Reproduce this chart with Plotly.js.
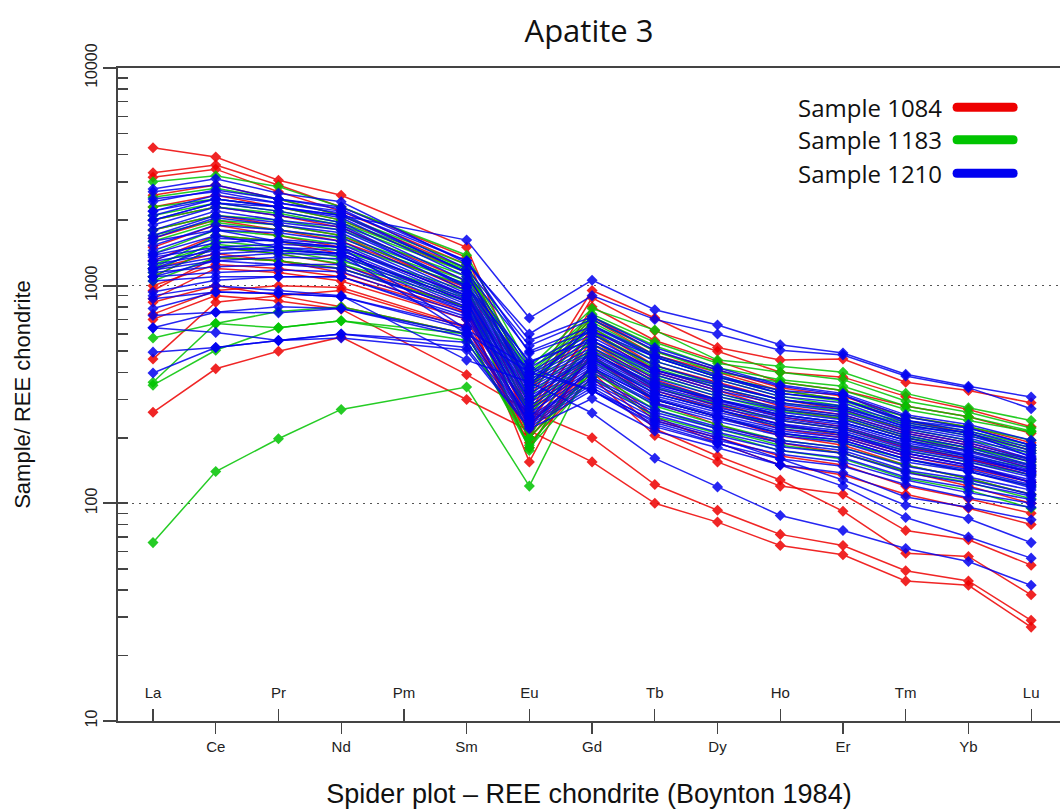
<!DOCTYPE html>
<html>
<head>
<meta charset="utf-8">
<script src="https://cdn.plot.ly/plotly-3.0.1.min.js"></script>
<style>html,body{margin:0;padding:0;background:#fff;}#chart{width:1060px;height:812px;}</style>
</head>
<body>
<div id="chart"></div>
<script>
// REE elements (chondrite-normalised spider plot, Boynton 1984); Pm not measured
const elements = ["La","Ce","Pr","Nd","Pm","Sm","Eu","Gd","Tb","Dy","Ho","Er","Tm","Yb","Lu"];
const measured = ["La","Ce","Pr","Nd","Sm","Eu","Gd","Tb","Dy","Ho","Er","Tm","Yb","Lu"];
const upperLabels = ["La","Pr","Pm","Eu","Tb","Ho","Tm","Lu"];
const lowerLabels = ["Ce","Nd","Sm","Gd","Dy","Er","Yb"];
const yTickVals = [10, 100, 1000, 10000];
const yTickText = ["10", "100", "1000", "10000"];
const sampleNames = ["Sample 1084", "Sample 1183", "Sample 1210"];

// Sample 1084 (red)
const sample1084 = [
  [4300,3900,3050,2600,1500,330,950,710,520,455,460,360,330,290],
  [3300,3580,2900,2300,1350,300,880,620,500,400,380,310,270,225],
  [3150,3430,2700,2200,1250,260,800,560,450,360,330,280,250,210],
  [2600,2900,2500,2100,1200,330,720,500,410,340,310,250,225,190],
  [2300,2600,2300,2000,1150,280,700,480,400,330,300,240,210,175],
  [2000,2300,2100,1850,1050,250,640,430,360,300,270,215,190,160],
  [1800,2100,1900,1700,950,230,600,400,330,270,245,200,175,145],
  [1650,2000,1800,1600,980,260,620,410,340,280,255,210,185,155],
  [1500,1900,1700,1500,900,240,560,370,300,250,225,185,160,135],
  [1300,1700,1600,1400,850,220,520,340,280,230,205,170,150,125],
  [1200,1400,1300,1200,800,155,540,360,290,240,220,180,160,140],
  [1100,1500,1400,1250,800,210,480,300,250,205,185,150,130,110],
  [1000,1250,1200,1100,750,180,500,330,270,220,200,165,145,125],
  [950,1350,1300,1150,760,230,470,290,230,190,170,140,120,100],
  [870,1200,1150,1050,700,200,420,240,200,165,150,120,105,90],
  [840,1000,900,800,600,190,380,205,155,120,110,75,68,52],
  [740,950,1000,980,650,210,430,250,190,150,135,110,95,80],
  [700,900,850,780,390,265,200,122,93,72,64,49,44,29],
  [460,840,900,950,640,200,400,220,165,128,92,59,57,38],
  [262,415,500,580,300,215,155,100,82,64,58,44,42,27]
];

// Sample 1183 (green)
const sample1183 = [
  [3000,3200,2850,2300,1380,420,785,625,455,425,400,320,275,240],
  [2550,2800,2500,2100,1250,400,740,550,440,400,370,295,262,222],
  [2300,2500,2300,2000,1200,380,700,500,400,360,330,270,240,213],
  [2100,2400,2200,1950,1180,390,720,530,420,370,345,280,250,215],
  [2000,2300,2150,1900,1150,360,680,480,385,330,300,250,225,195],
  [1800,2100,2000,1800,1100,350,640,450,370,310,280,235,210,180],
  [1700,2000,1900,1700,1050,330,600,420,340,290,265,220,195,170],
  [1600,1950,1800,1650,1020,200,610,430,350,300,275,230,205,175],
  [1400,1800,1700,1550,1000,340,660,470,380,320,295,240,215,185],
  [1250,1550,1450,1300,880,175,540,380,310,265,245,200,180,155],
  [1200,1700,1600,1450,950,310,560,390,320,270,250,205,180,160],
  [1150,1600,1500,1350,900,290,520,360,300,255,235,195,175,150],
  [1100,1500,1400,1260,850,270,500,340,285,240,220,185,165,145],
  [1050,1350,1300,1200,800,260,470,320,270,225,210,175,155,135],
  [575,670,640,690,600,180,380,250,210,175,160,130,115,95],
  [360,670,760,800,600,185,420,280,230,195,180,150,130,110],
  [349,505,640,690,560,200,400,270,220,185,170,140,125,105],
  [66,140,198,270,342,120,450,300,250,210,190,160,140,120]
];

// Sample 1210 (blue)
const sample1210 = [
  [2000,2400,2300,2100,1620,710,1060,775,660,535,490,392,345,308],
  [2780,3100,2660,2430,1270,600,900,700,600,505,480,385,340,272],
  [2700,2900,2500,2300,1300,560,720,520,420,350,320,255,230,195],
  [2500,2700,2400,2200,1300,490,620,470,380,330,315,250,222,185],
  [2430,2750,2500,2250,1200,530,700,505,410,345,315,240,222,185],
  [2200,2600,2400,2150,1150,500,650,470,380,320,300,235,210,175],
  [2200,2500,2300,2100,1150,350,660,480,390,320,300,240,215,180],
  [2100,2500,2300,2050,1100,440,620,450,370,310,290,230,205,170],
  [2000,2400,2200,1950,1050,420,600,430,355,300,280,225,200,165],
  [1900,2300,2100,1900,1000,400,580,410,340,290,270,220,195,160],
  [1800,2200,2000,1860,980,390,560,400,330,285,262,215,190,158],
  [1700,2100,1950,1800,1000,450,560,410,350,300,275,225,212,163],
  [1650,2050,1900,1750,950,380,540,390,320,275,255,210,185,155],
  [1600,1800,1600,1500,630,420,330,240,200,160,128,98,85,66],
  [1530,1900,1800,1670,920,370,520,375,310,270,250,205,180,150],
  [1450,1800,1750,1600,900,360,505,365,300,262,242,200,175,148],
  [1400,1700,1500,1400,600,400,330,230,190,150,120,86,70,56],
  [1380,1570,1630,1550,880,350,490,355,295,255,235,195,172,145],
  [1350,1500,1550,1500,860,340,480,345,290,250,230,190,168,142],
  [1300,1650,1600,1500,900,300,490,350,300,255,235,195,165,138],
  [1290,1450,1500,1450,840,330,470,338,282,245,225,186,165,140],
  [1250,1400,1450,1410,820,320,460,330,275,240,220,182,162,138],
  [1200,1350,1410,1380,800,310,450,320,268,232,215,178,158,135],
  [1200,1500,1450,1400,850,250,460,320,270,230,210,170,150,125],
  [1180,1300,1350,1330,780,300,440,312,262,226,210,174,155,132],
  [1150,1220,1250,1250,760,290,430,305,255,220,205,170,150,128],
  [1100,1300,1250,1200,780,230,420,300,250,210,195,160,140,118],
  [1100,1150,1180,1160,740,280,420,300,250,215,200,165,147,125],
  [1050,1100,1100,1100,720,270,410,290,245,210,195,160,143,122],
  [935,1060,1100,1100,700,260,400,285,238,205,190,155,140,120],
  [900,1000,950,900,455,360,260,161,119,88,75,62,54,42],
  [870,935,920,890,650,250,380,270,225,195,180,148,132,115],
  [785,935,920,890,630,245,370,262,220,190,175,142,128,110],
  [730,755,800,785,600,240,360,255,212,182,170,138,124,108],
  [640,755,750,785,580,235,350,245,205,175,162,132,118,104],
  [640,610,560,600,550,230,340,235,195,168,155,128,112,100],
  [495,520,560,600,520,225,330,225,188,160,148,122,106,96],
  [397,520,560,575,505,220,303,215,180,150,138,107,96,84]
];

const groups = [
  {name: sampleNames[0], data: sample1084, color: "#ee0000"},
  {name: sampleNames[1], data: sample1183, color: "#00c400"},
  {name: sampleNames[2], data: sample1210, color: "#0000f0"}
];

const xOf = el => elements.indexOf(el) + 1;
const xs = measured.map(xOf);

const traces = [];
groups.forEach(g => {
  g.data.forEach(row => {
    traces.push({
      type: "scatter", mode: "lines+markers",
      x: xs, y: row, xaxis: "x", yaxis: "y",
      line: {color: g.color, width: 1.5},
      marker: {symbol: "diamond", size: 8.5, color: g.color},
      opacity: 0.85,
      name: g.name, showlegend: false, hoverinfo: "skip"
    });
  });
});
// anchors for the overlay axes
traces.push({type: "scatter", x: [], y: [], xaxis: "x2", yaxis: "y", showlegend: false, hoverinfo: "skip"});
traces.push({type: "scatter", x: [], y: [], xaxis: "x2", yaxis: "y2", showlegend: false, hoverinfo: "skip"});

const upperVals = upperLabels.map(xOf);
const lowerVals = lowerLabels.map(xOf);
const xRange = [0.442, 15.46];
const yRange = [1, 4];
const axisColor = "#444";
const tickFont = {family: "Liberation Sans, Arial, sans-serif", size: 15, color: "#222"};

// custom legend (text left of a thick swatch)
const legendY = [0.940, 0.890, 0.839];
const annotations = groups.map((g, i) => ({
  xref: "paper", yref: "paper", x: 0.877, y: legendY[i],
  xanchor: "right", yanchor: "middle", showarrow: false,
  text: g.name, font: {family: "Open Sans, sans-serif", size: 24, color: "#111"}
}));
const shapes = groups.map((g, i) => ({
  type: "path", xref: "paper", yref: "paper",
  xsizemode: "pixel", ysizemode: "pixel",
  xanchor: 0.886, yanchor: legendY[i],
  path: "M 4.5 -4.5 L 60.5 -4.5 Q 65 -4.5 65 0 Q 65 4.5 60.5 4.5 L 4.5 4.5 Q 0 4.5 0 0 Q 0 -4.5 4.5 -4.5 Z",
  fillcolor: g.color, line: {width: 0}
}));

const layout = {
  width: 1060, height: 812,
  margin: {l: 118, r: 0, t: 68, b: 91},
  paper_bgcolor: "#fff", plot_bgcolor: "#fff",
  showlegend: false,
  title: {
    text: "Apatite 3", x: 0.5, xref: "paper", xanchor: "center",
    y: 1 - 31 / 812, yref: "container", yanchor: "middle",
    font: {family: "Open Sans, sans-serif", size: 31, color: "#111"}
  },
  xaxis: {
    range: xRange, showgrid: false, zeroline: false,
    showline: true, linecolor: axisColor, linewidth: 2, mirror: true,
    tickmode: "array", tickvals: upperVals, ticktext: upperLabels,
    ticks: "inside", ticklen: 12, tickwidth: 1.3, tickcolor: axisColor,
    ticklabelposition: "inside", ticklabelstandoff: 8, tickfont: tickFont
  },
  xaxis2: {
    range: xRange, overlaying: "x", anchor: "y", side: "bottom",
    showgrid: false, zeroline: false, showline: false,
    tickmode: "array", tickvals: lowerVals, ticktext: lowerLabels,
    ticks: "outside", ticklen: 12, tickwidth: 1.3, tickcolor: axisColor,
    tickfont: tickFont,
    title: {text: "Spider plot \u2013 REE chondrite (Boynton 1984)", standoff: 30,
            font: {family: "Liberation Sans, Arial, sans-serif", size: 27, color: "#111"}}
  },
  yaxis: {
    type: "log", range: yRange, zeroline: false,
    showline: true, linecolor: axisColor, linewidth: 2.5,
    tickmode: "array", tickvals: yTickVals, showticklabels: false,
    ticks: "inside", ticklen: 10, tickwidth: 2, tickcolor: axisColor,
    showgrid: true, gridcolor: "#555", gridwidth: 1.2, griddash: "2px,5px",
    minor: {ticks: "inside", ticklen: 10, tickwidth: 1.5, tickcolor: axisColor, dtick: "D1", showgrid: false},
    title: {text: "Sample/ REE chondrite", standoff: 79,
            font: {family: "Liberation Sans, Arial, sans-serif", size: 22, color: "#111"}}
  },
  yaxis2: {
    type: "log", range: yRange, overlaying: "y", side: "left", anchor: "x2",
    showgrid: false, zeroline: false, showline: false,
    tickmode: "array", tickvals: yTickVals, ticktext: yTickText,
    ticks: "outside", ticklen: 14, tickwidth: 2, tickcolor: axisColor,
    tickangle: -90, tickfont: {family: "Liberation Sans, Arial, sans-serif", size: 16, color: "#222"}
  },
  annotations: annotations,
  shapes: shapes
};

Plotly.newPlot("chart", traces, layout, {staticPlot: true});
</script>
</body>
</html>
